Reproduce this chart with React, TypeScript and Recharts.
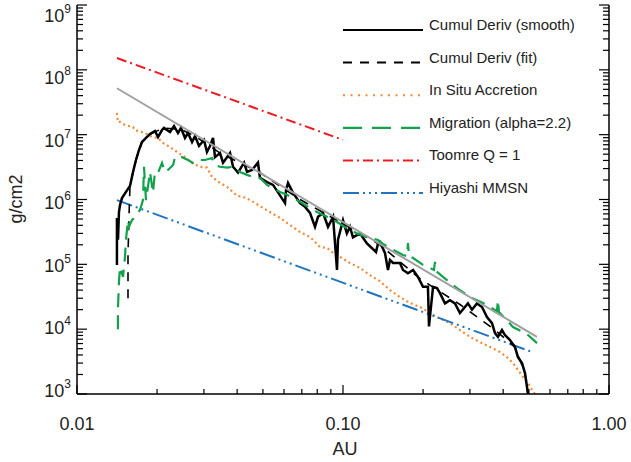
import React from 'react';
import { LineChart, Line, XAxis, YAxis } from 'recharts';

const FONT = '"Liberation Sans", Arial, Helvetica, sans-serif';

// [AU, g/cm2]
const cumulSmooth: [number, number][] = [
  [0.01413, 9.8e4], [0.01413, 5.2e5], [0.01426, 2.4e5], [0.01438, 6.4e5], [0.01451, 8.2e5],
  [0.01476, 1.05e6], [0.01528, 1.31e6], [0.01582, 1.62e6], [0.01624, 2.66e6], [0.01666, 4.07e6],
  [0.0171, 5.8e6], [0.01755, 7.7e6], [0.01817, 8.9e6], [0.01881, 1.02e7], [0.01964, 1.14e7],
  [0.02016, 9.2e6], [0.02087, 1.18e7], [0.02123, 1.27e7], [0.02237, 1.1e7], [0.02316, 1.36e7],
  [0.02397, 1.06e7], [0.0246, 1.27e7], [0.02547, 8.9e6], [0.02614, 1.06e7], [0.02707, 7.7e6],
  [0.02778, 9.5e6], [0.02875, 6.7e6], [0.03002, 8.3e6], [0.0308, 5.4e6], [0.03162, 6.7e6],
  [0.03246, 8.9e6], [0.03302, 4.5e6], [0.03449, 5.2e6], [0.0354, 3.7e6], [0.03761, 5.2e6],
  [0.0386, 3.2e6], [0.0403, 2.6e6], [0.04246, 3.7e6], [0.04357, 2.66e6], [0.04551, 2.85e6],
  [0.0479, 3.7e6], [0.04875, 2.15e6], [0.05181, 1.86e6], [0.05458, 1.68e6], [0.06054, 8.8e5],
  [0.06107, 1.4e6], [0.06213, 1.8e6], [0.0649, 1.27e6], [0.06893, 8.8e5], [0.07198, 7.7e5],
  [0.07516, 6.2e5], [0.07849, 3.8e5], [0.08054, 5.4e5], [0.08414, 6.2e5], [0.08783, 3.8e5],
  [0.09175, 5.4e5], [0.09493, 8.2e4], [0.09575, 2.4e5], [0.1, 4.8e5], [0.1034, 3.0e5],
  [0.1062, 3.8e5], [0.109, 2.6e5], [0.1158, 3.0e5], [0.123, 2.1e5], [0.1331, 1.55e5],
  [0.1354, 2.1e5], [0.1377, 2.2e5], [0.1438, 1.5e5], [0.1476, 8.2e4], [0.1502, 1.17e5],
  [0.1542, 1.05e5], [0.1637, 1.05e5], [0.1681, 8.2e4], [0.1755, 7.3e4], [0.1834, 8.2e4],
  [0.1913, 6.4e4], [0.1999, 4.5e4], [0.2086, 4.5e4], [0.2105, 1.1e4], [0.218, 4.5e4],
  [0.2255, 4.3e4], [0.2315, 3.6e4], [0.2418, 2.5e4], [0.2524, 2.8e4], [0.2636, 2.5e4],
  [0.2752, 1.77e4], [0.2874, 2.2e4], [0.2949, 2.5e4], [0.3054, 2.0e4], [0.3188, 2.5e4],
  [0.3331, 2.2e4], [0.3477, 1.54e4], [0.3632, 1.24e4], [0.3727, 8.7e3], [0.3824, 7.6e3],
  [0.396, 9.7e3], [0.4063, 8.1e3], [0.4243, 6.8e3], [0.4431, 5.3e3], [0.4547, 3.7e3],
  [0.4709, 3.0e3], [0.4832, 2.1e3], [0.4917, 1.28e3], [0.496, 1.0e3],
];

const cumulFit: [number, number][] = [
  [0.01555, 3.0e4], [0.01555, 1.39e5], [0.01569, 5.8e5], [0.01582, 1.62e6], [0.01666, 4.07e6],
  [0.01755, 7.7e6], [0.01881, 1.02e7], [0.02123, 1.27e7], [0.0246, 1.2e7], [0.02778, 9.5e6],
  [0.03449, 5.2e6], [0.04875, 2.6e6], [0.06893, 1.0e6], [0.09743, 4.5e5], [0.1377, 2.0e5],
  [0.1947, 6.0e4], [0.2752, 2.4e4], [0.3727, 9.7e3], [0.4431, 5.3e3], [0.4832, 2.1e3],
  [0.496, 1.0e3],
];

const inSitu: [number, number][] = [
  [0.01413, 2.16e7], [0.01425, 1.57e7], [0.01451, 1.57e7], [0.01515, 1.41e7], [0.01624, 1.31e7],
  [0.01652, 1.18e7], [0.01801, 1.06e7], [0.01914, 9.2e6], [0.02016, 8.9e6], [0.02106, 7.45e6],
  [0.02237, 6.45e6], [0.02377, 5.4e6], [0.02547, 4.5e6], [0.02707, 3.66e6], [0.029, 3.2e6],
  [0.0308, 3.1e6], [0.03218, 2.23e6], [0.03449, 1.8e6], [0.03665, 1.57e6], [0.03995, 1.14e6],
  [0.0421, 1.1e6], [0.04472, 9.8e5], [0.04875, 7.9e5], [0.05317, 6.4e5], [0.05797, 5.2e5],
  [0.06322, 4.04e5], [0.06893, 3.15e5], [0.07516, 2.64e5], [0.08196, 1.85e5], [0.08705, 1.79e5],
  [0.09175, 1.5e5], [0.09743, 1.3e5], [0.1062, 1.05e5], [0.1158, 8.8e4], [0.1263, 6.8e4],
  [0.1377, 5.5e4], [0.1502, 4.0e4], [0.1637, 3.13e4], [0.1786, 2.53e4], [0.1947, 2.2e4],
  [0.2255, 1.54e4], [0.2524, 1.24e4], [0.2752, 9.7e3], [0.3001, 7.6e3], [0.3273, 6.3e3],
  [0.3569, 5.3e3], [0.3891, 4.45e3], [0.4135, 3.7e3], [0.4355, 3.0e3], [0.4547, 2.35e3],
  [0.475, 1.83e3], [0.496, 1.48e3], [0.5135, 1.16e3], [0.5269, 1.0e3],
];

const migration: [number, number][] = [
  [0.01425, 1.0e4], [0.01425, 2.0e4], [0.01438, 5.3e4], [0.01451, 9.1e4], [0.01489, 6.4e4],
  [0.01515, 1.3e5], [0.01528, 2.4e5], [0.01555, 4.8e5], [0.01569, 3.8e5], [0.0161, 4.8e5],
  [0.01652, 5.4e5], [0.01725, 6.9e5], [0.0177, 9.8e5], [0.01786, 3.2e6], [0.01817, 9.8e5],
  [0.01848, 1.57e6], [0.01881, 2.66e6], [0.0193, 1.27e6], [0.01964, 2.66e6], [0.02016, 2.57e6],
  [0.02087, 3.66e6], [0.02142, 2.66e6], [0.02198, 2.85e6], [0.02297, 3.4e6], [0.02336, 4.5e6],
  [0.02482, 4.5e6], [0.02614, 4.07e6], [0.02731, 3.66e6], [0.0285, 4.07e6], [0.03028, 4.07e6],
  [0.03218, 4.37e6], [0.03302, 3.4e6], [0.03449, 3.2e6], [0.03665, 3.1e6], [0.0386, 3.2e6],
  [0.04101, 2.66e6], [0.04357, 2.4e6], [0.04591, 2.23e6], [0.04875, 2.15e6], [0.05181, 1.68e6],
  [0.05458, 1.5e6], [0.05797, 1.31e6], [0.06158, 1.18e6], [0.0649, 1.06e6], [0.06893, 9.2e5],
  [0.07516, 7.4e5], [0.07986, 6.4e5], [0.08705, 5.4e5], [0.09493, 4.5e5], [0.1034, 3.6e5],
  [0.1128, 3.0e5], [0.123, 2.64e5], [0.1354, 2.37e5], [0.1414, 2.06e5], [0.1502, 1.79e5],
  [0.1681, 1.39e5], [0.174, 1.34e5], [0.1755, 2.13e5], [0.177, 1.34e5], [0.1834, 1.25e5],
  [0.1999, 9.8e4], [0.2198, 8.2e4], [0.2217, 1.09e5], [0.2236, 7.9e4], [0.2376, 6.4e4],
  [0.2682, 4.3e4], [0.3001, 3.13e4], [0.336, 2.53e4], [0.379, 1.9e4], [0.3824, 2.8e4],
  [0.3857, 1.84e4], [0.4355, 1.08e4], [0.4917, 8.4e3], [0.5362, 6.1e3],
];

const powerLaw: [number, number][] = [[0.01413, 5.2e7], [0.5362, 7.6e3]];
const toomre: [number, number][] = [[0.01413, 1.52e8], [0.1, 8.3e6]];
const hiyashi: [number, number][] = [[0.01413, 9.8e5], [0.5135, 4.45e3]];

const X_MAJOR = [0.01, 0.1, 1];
const X_LABELS = ['0.01', '0.10', '1.00'];
const X_MINOR = [0.02, 0.03, 0.04, 0.05, 0.06, 0.07, 0.08, 0.09, 0.2, 0.3, 0.4, 0.5, 0.6, 0.7, 0.8, 0.9];
const Y_EXP = [3, 4, 5, 6, 7, 8, 9];
const Y_MANT = [2, 3, 4, 5, 6, 7, 8, 9];

const X_TICKS = [...X_MAJOR, ...X_MINOR].sort((a, b) => a - b);
const Y_MAJOR = Y_EXP.map((e) => Math.pow(10, e));
const Y_TICKS = [
  ...Y_MAJOR,
  ...Y_EXP.slice(0, -1).flatMap((e) => Y_MANT.map((m) => m * Math.pow(10, e))),
].sort((a, b) => a - b);

const toRows = (pts: [number, number][]) => pts.map(([x, y]) => ({ x, y }));

const majorIndex = (list: number[], v: number) =>
  list.findIndex((m) => Math.abs(m - v) / m < 1e-6);

const LEGEND = [
  { label: 'Cumul Deriv (smooth)', color: '#000000', dash: undefined, width: 2.2 },
  { label: 'Cumul Deriv (fit)', color: '#000000', dash: '9 8', width: 2 },
  { label: 'In Situ Accretion', color: '#f5893a', dash: '2 5.5', width: 2 },
  { label: 'Migration (alpha=2.2)', color: '#12a24b', dash: '19 10', width: 2.2 },
  { label: 'Toomre Q = 1', color: '#ec1c24', dash: '10 4 2 4', width: 2 },
  { label: 'Hiyashi MMSN', color: '#1f75c0', dash: '16 4 2 4 2 4 2 4', width: 2 },
];

const BottomTick = (props: any) => {
  const { x, y, payload } = props;
  const i = majorIndex(X_MAJOR, payload.value);
  return (
    <g>
      <line x1={x} x2={x} y1={y} y2={y - (i >= 0 ? 9 : 5)} stroke="#000" strokeWidth={1.2} />
      {i >= 0 && (
        <text x={x} y={y + 36} textAnchor="middle" fontSize={18} fontFamily={FONT} fill="#222">
          {X_LABELS[i]}
        </text>
      )}
    </g>
  );
};

const TopTick = (props: any) => {
  const { x, y, payload } = props;
  const i = majorIndex(X_MAJOR, payload.value);
  return <line x1={x} x2={x} y1={y} y2={y + (i >= 0 ? 9 : 5)} stroke="#000" strokeWidth={1.2} />;
};

const LeftTick = (props: any) => {
  const { x, y, payload } = props;
  const i = majorIndex(Y_MAJOR, payload.value);
  // labels drift slightly vs. their ticks in the original
  const shift = 10 - 14 * (y - 5) / 389;
  return (
    <g>
      <line x1={x} x2={x + (i >= 0 ? 10 : 6)} y1={y} y2={y} stroke="#000" strokeWidth={1.2} />
      {i >= 0 && (
        <text x={71} y={y + shift + 6.5} textAnchor="end" fontSize={18} fontFamily={FONT} fill="#222">
          10
          <tspan fontSize={12} dy={-9}>{Y_EXP[i]}</tspan>
        </text>
      )}
    </g>
  );
};

const RightTick = (props: any) => {
  const { x, y, payload } = props;
  const i = majorIndex(Y_MAJOR, payload.value);
  return <line x1={x} x2={x - (i >= 0 ? 10 : 6)} y1={y} y2={y} stroke="#000" strokeWidth={1.2} />;
};

const axisLine = { stroke: '#000', strokeWidth: 1.5 };

export default function App() {
  return (
    <div style={{ position: 'absolute', left: 0, top: 0, width: 631, height: 462, background: '#fff' }}>
      <LineChart width={631} height={462} margin={{ top: 5, right: 0, bottom: 0, left: 0 }}>
        <XAxis
          xAxisId="bottom"
          dataKey="x"
          type="number"
          scale="log"
          domain={[0.01, 1]}
          allowDataOverflow
          ticks={X_TICKS}
          interval={0}
          tickSize={0}
          tickMargin={0}
          tickLine={false}
          tick={<BottomTick />}
          axisLine={axisLine}
          height={68}
        />
        <XAxis
          xAxisId="top"
          orientation="top"
          dataKey="x"
          type="number"
          scale="log"
          domain={[0.01, 1]}
          allowDataOverflow
          ticks={X_TICKS}
          interval={0}
          tickSize={0}
          tickMargin={0}
          tickLine={false}
          tick={<TopTick />}
          axisLine={axisLine}
          height={0}
        />
        <YAxis
          yAxisId="left"
          dataKey="y"
          type="number"
          scale="log"
          domain={[1e3, 1e9]}
          allowDataOverflow
          ticks={Y_TICKS}
          interval={0}
          tickSize={0}
          tickMargin={0}
          tickLine={false}
          tick={<LeftTick />}
          axisLine={axisLine}
          width={77}
        />
        <YAxis
          yAxisId="right"
          orientation="right"
          dataKey="y"
          type="number"
          scale="log"
          domain={[1e3, 1e9]}
          allowDataOverflow
          ticks={Y_TICKS}
          interval={0}
          tickSize={0}
          tickMargin={0}
          tickLine={false}
          tick={<RightTick />}
          axisLine={axisLine}
          width={22}
        />

        <Line xAxisId="bottom" yAxisId="left" data={toRows(inSitu)} dataKey="y" type="linear"
          stroke="#f5893a" strokeWidth={2.2} strokeDasharray="2 3" dot={false} isAnimationActive={false} />
        <Line xAxisId="bottom" yAxisId="left" data={toRows(hiyashi)} dataKey="y" type="linear"
          stroke="#1f75c0" strokeWidth={2} strokeDasharray="16 4 2 4 2 4 2 4" dot={false} isAnimationActive={false} />
        <Line xAxisId="bottom" yAxisId="left" data={toRows(toomre)} dataKey="y" type="linear"
          stroke="#ec1c24" strokeWidth={2} strokeDasharray="10 4 2 4" dot={false} isAnimationActive={false} />
        <Line xAxisId="bottom" yAxisId="left" data={toRows(cumulFit)} dataKey="y" type="linear"
          stroke="#000" strokeWidth={1.6} strokeDasharray="9 8" dot={false} isAnimationActive={false} />
        <Line xAxisId="bottom" yAxisId="left" data={toRows(cumulSmooth)} dataKey="y" type="linear"
          stroke="#000" strokeWidth={2.5} dot={false} isAnimationActive={false} />
        <Line xAxisId="bottom" yAxisId="left" data={toRows(migration)} dataKey="y" type="linear"
          stroke="#12a24b" strokeWidth={2.2} strokeDasharray="14 8" dot={false} isAnimationActive={false} />
        <Line xAxisId="top" yAxisId="right" data={toRows(powerLaw)} dataKey="y" type="linear"
          stroke="#a0a0a0" strokeWidth={2} dot={false} isAnimationActive={false} />
      </LineChart>

      <svg width={631} height={462} style={{ position: 'absolute', left: 0, top: 0, pointerEvents: 'none' }}>
        {LEGEND.map((item, i) => {
          const y = 30 + i * 32.6;
          return (
            <g key={item.label}>
              <line x1={343} x2={423} y1={y} y2={y} stroke={item.color} strokeWidth={item.width}
                strokeDasharray={item.dash} />
              <text x={429} y={y} fontSize={15} fontFamily={FONT} fill="#222">{item.label}</text>
            </g>
          );
        })}
        <text x={345} y={455} textAnchor="middle" fontSize={18} fontFamily={FONT} fill="#222">AU</text>
        <text x={0} y={0} transform="translate(22 199) rotate(-90)" textAnchor="middle" fontSize={18}
          fontFamily={FONT} fill="#222">g/cm2</text>
      </svg>
    </div>
  );
}
